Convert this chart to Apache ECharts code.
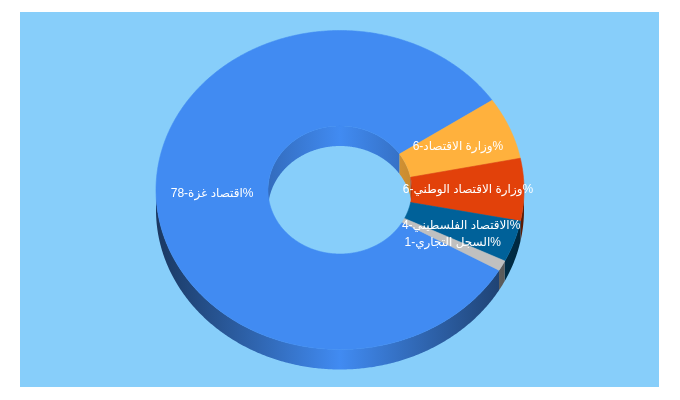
<!DOCTYPE html>
<html>
<head>
<meta charset="utf-8">
<style>html,body{margin:0;padding:0;background:#fff}#c{width:680px;height:400px}</style>
<script src="https://cdn.jsdelivr.net/npm/echarts@6/dist/echarts.min.js"></script>
</head>
<body>
<div id="c"></div>
<script>
const categories = ['اقتصاد غزة', 'وزارة الاقتصاد', 'وزارة الاقتصاد الوطني', 'الاقتصاد الفلسطيني', 'السجل التجاري'];
const values = [78, 6, 6, 4, 1];
const colors = ['#418bf2', '#ffb13d', '#e2410a', '#006199', '#c0c0c0'];

const CX = 340, CY = 190, RX = 184, RY = 159.5, HX = 72, HY = 64, DEPTH = 20, START = 30.2;
const total = values.reduce((a, b) => a + b, 0);
const starts = [];
values.reduce((acc, v, i) => { starts[i] = acc; return acc + v / total * 360; }, START);

function span(i) { return [starts[i], starts[i] + values[i] / total * 360]; }
function pt(rx, ry, deg, dy) {
  const t = deg * Math.PI / 180;
  return [CX + rx * Math.cos(t), CY + ry * Math.sin(t) + (dy || 0)];
}
function arc(rx, ry, a, b, dy) {
  const out = [], n = Math.max(2, Math.ceil(Math.abs(b - a) * 2));
  for (let k = 0; k <= n; k++) out.push(pt(rx, ry, a + (b - a) * k / n, dy));
  return out;
}
function shade(hex, f) {
  const n = parseInt(hex.slice(1), 16);
  const c = [n >> 16, (n >> 8) & 255, n & 255].map(v => Math.round(v * f));
  return 'rgb(' + c.join(',') + ')';
}
function wallGradient(hex, r, edge) {
  return new echarts.graphic.LinearGradient(CX - r, 0, CX + r, 0, [
    { offset: 0, color: shade(hex, edge) },
    { offset: 0.5, color: shade(hex, 1) },
    { offset: 1, color: shade(hex, edge) }
  ], true);
}
function clip(a, b, lo, hi) {
  const parts = [];
  for (const off of [-360, 0, 360]) {
    const s = Math.max(a, lo + off), e = Math.min(b, hi + off);
    if (e > s) parts.push([s, e]);
  }
  return parts;
}
function poly(points, fill, stroke) {
  return { type: 'polygon', shape: { points }, style: { fill, stroke: stroke || null, lineWidth: stroke ? 0.6 : 0 } };
}
function renderWalls(params, api) {
  const i = api.value(0), [a, b] = span(i), children = [];
  clip(a, b, 0, 180).forEach(([s, e]) => {
    children.push(poly(arc(RX, RY, s, e, 0).concat(arc(RX, RY, e, s, DEPTH)), wallGradient(colors[i], RX, 0.4)));
  });
  clip(a, b, 180, 360).forEach(([s, e]) => {
    children.push(poly(arc(HX, HY, s, e, 0).concat(arc(HX, HY, e, s, DEPTH)), wallGradient(colors[i], HX, 0.78)));
  });
  return { type: 'group', children };
}
function renderFaces(params, api) {
  const i = api.value(0), [a, b] = span(i);
  return poly(arc(RX, RY, a, b, 0).concat(arc(HX, HY, b, a, 0)), colors[i], colors[i]);
}
function renderLabels(params, api) {
  const i = api.value(0), [a, b] = span(i);
  const p = pt((RX + HX) / 2, (RY + HY) / 2, (a + b) / 2, 0);
  return {
    type: 'text', x: p[0], y: p[1],
    style: {
      text: categories[i] + '-' + api.value(1) + '%',
      fill: '#fff', font: '12px "Liberation Sans", "DejaVu Sans"', align: 'center', verticalAlign: 'middle'
    }
  };
}
const seriesData = values.map((v, i) => [i, v]);
const chart = echarts.init(document.getElementById('c'), null, { renderer: 'canvas' });
chart.setOption({
  animation: false,
  backgroundColor: '#fff',
  graphic: [{ type: 'rect', z: -1, shape: { x: 20, y: 12, width: 639, height: 375 }, style: { fill: '#87cefa' } }],
  series: [
    { type: 'custom', coordinateSystem: 'none', z: 2, silent: true, clip: false, data: seriesData, renderItem: renderWalls },
    { type: 'custom', coordinateSystem: 'none', z: 3, silent: true, clip: false, data: seriesData, renderItem: renderFaces },
    { type: 'custom', coordinateSystem: 'none', z: 4, silent: true, clip: false, data: seriesData, renderItem: renderLabels }
  ]
});
</script>
</body>
</html>
